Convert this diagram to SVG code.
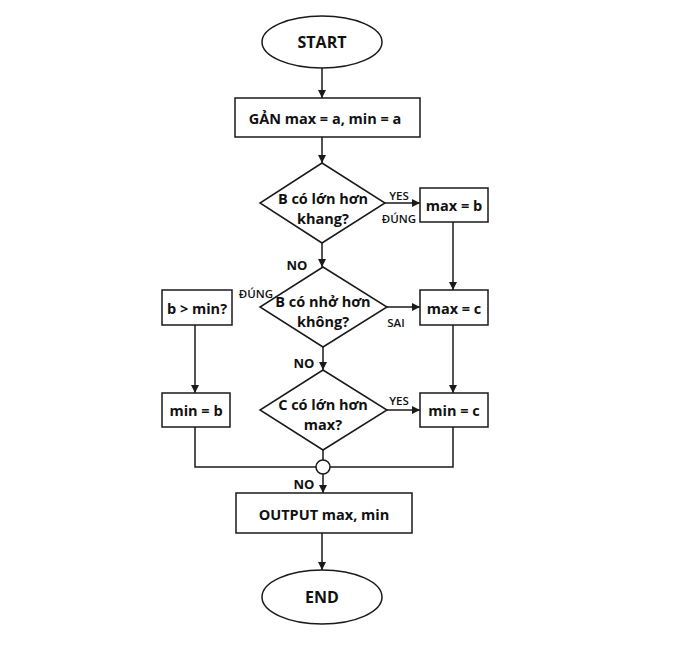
<svg xmlns="http://www.w3.org/2000/svg" width="677" height="651" viewBox="0 0 677 651">
<defs>
<marker id="ah" viewBox="0 0 10 10" refX="10" refY="5" markerWidth="8" markerHeight="8" markerUnits="userSpaceOnUse" orient="auto">
<path d="M0,0 L10,5 L0,10 z" fill="#1a1a1a"/>
</marker>
<style>
.s{fill:#fff;stroke:#1a1a1a;stroke-width:1.5}
.t{font-family:"Open Sans","Liberation Sans",sans-serif;font-weight:700;font-size:14.5px;fill:#111;text-anchor:middle;dominant-baseline:central}
.l{font-family:"Open Sans","Liberation Sans",sans-serif;font-weight:600;font-size:11.5px;fill:#111;text-anchor:middle;dominant-baseline:central}
.n{font-family:"Open Sans","Liberation Sans",sans-serif;font-weight:700;font-size:13px;fill:#111;text-anchor:middle;dominant-baseline:central}
.c{fill:none;stroke:#1a1a1a;stroke-width:1.5}
.a{marker-end:url(#ah)}
</style>
</defs>
<rect width="677" height="651" fill="#fff"/>
<g id="connectors">
<line class="c a" x1="322" y1="68" x2="322" y2="98"/>
<line class="c a" x1="322" y1="137" x2="322" y2="163"/>
<line class="c a" x1="385" y1="203" x2="420" y2="203"/>
<line class="c a" x1="453" y1="222" x2="453" y2="290"/>
<line class="c a" x1="322" y1="243" x2="322" y2="267"/>
<line class="c a" x1="387" y1="307" x2="420" y2="307"/>
<line class="c a" x1="195" y1="325" x2="195" y2="393"/>
<line class="c a" x1="453" y1="325" x2="453" y2="393"/>
<line class="c a" x1="323" y1="347" x2="323" y2="370"/>
<line class="c a" x1="387" y1="410" x2="420" y2="410"/>
<line class="c" x1="323" y1="450" x2="323" y2="460"/>
<polyline class="c" points="195,427 195,467 316,467"/>
<polyline class="c" points="453,427 453,467 330,467"/>
<line class="c a" x1="323" y1="474" x2="323" y2="493"/>
<line class="c a" x1="322" y1="533" x2="322" y2="570"/>
<text class="l" x="399" y="195">YES</text>
<text class="l" x="399" y="218">ĐÚNG</text>
<text class="n" x="297" y="265">NO</text>
<text class="l" x="256" y="293">ĐÚNG</text>
<text class="l" x="396" y="322">SAI</text>
<text class="n" x="304" y="363">NO</text>
<text class="l" x="399" y="400">YES</text>
<text class="n" x="304" y="484">NO</text>
</g>
<g id="start"><ellipse class="s" cx="322" cy="42" rx="60" ry="26"/><text class="t" x="322" y="42" style="font-size:16px">START</text></g>
<g id="init"><rect class="s" x="235" y="98" width="185" height="39"/><text class="t" x="325" y="118">GẢN max = a, min = a</text></g>
<g id="d1"><polygon class="s" points="322,163 385,203 322,243 260,203"/><text class="t" x="323" y="198">B có lớn hơn</text><text class="t" x="323" y="218">khang?</text></g>
<g id="maxb"><rect class="s" x="420" y="188" width="68" height="34"/><text class="t" x="454" y="205">max = b</text></g>
<g id="d2"><polygon class="s" points="323,267 387,307 323,347 260,307"/><text class="t" x="323" y="301">B có nhở hơn</text><text class="t" x="323" y="321">không?</text></g>
<g id="bmin"><rect class="s" x="162" y="290" width="70" height="35"/><text class="t" x="197" y="308">b &gt; min?</text></g>
<g id="maxc"><rect class="s" x="420" y="290" width="68" height="35"/><text class="t" x="454" y="308">max = c</text></g>
<g id="d3"><polygon class="s" points="323,370 387,410 323,450 260,410"/><text class="t" x="323" y="404">C có lớn hơn</text><text class="t" x="323" y="424">max?</text></g>
<g id="minb"><rect class="s" x="162" y="393" width="68" height="34"/><text class="t" x="196" y="410">min = b</text></g>
<g id="minc"><rect class="s" x="420" y="393" width="68" height="34"/><text class="t" x="454" y="410">min = c</text></g>
<g id="junction"><circle class="s" cx="323" cy="467" r="7"/></g>
<g id="output"><rect class="s" x="236" y="493" width="176" height="40"/><text class="t" x="324" y="514">OUTPUT max, min</text></g>
<g id="end"><ellipse class="s" cx="322" cy="597" rx="60" ry="27"/><text class="t" x="322" y="597" style="font-size:16px">END</text></g>
</svg>
